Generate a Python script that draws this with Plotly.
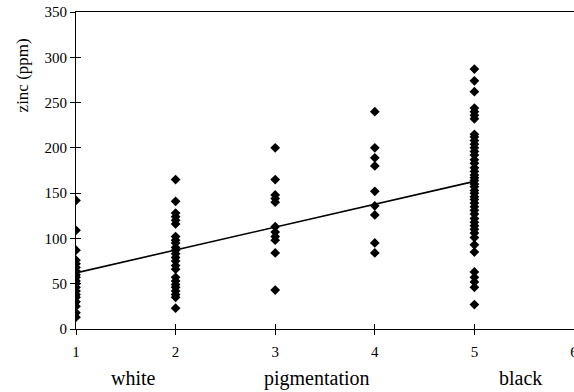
import plotly.graph_objects as go

# zinc (ppm) by pigmentation class
zinc_1 = [142, 109, 87, 76, 72, 68, 64, 60, 57, 53, 50, 46, 42, 38, 35, 30, 25, 18, 13]
zinc_2 = [165, 141, 128, 124, 120, 116, 102, 98, 95, 90, 87, 83, 79, 75, 70, 66,
          57, 53, 49, 46, 42, 38, 35, 23]
zinc_3 = [200, 165, 148, 144, 140, 113, 107, 102, 98, 84, 43]
zinc_4 = [240, 200, 189, 180, 152, 136, 126, 95, 84]
zinc_5 = [287, 274, 262, 244, 240, 236, 232, 215, 212, 208, 204, 200, 196, 192,
          187, 183, 178, 174, 170, 167, 164, 160, 157, 153, 150, 146, 143, 139,
          135, 131, 127, 122, 118, 114, 110, 106, 101, 93, 85, 63, 57, 52, 46, 27]
groups = [1, 2, 3, 4, 5]
fit_x = [1, 5]
fit_y = [62, 163]
x_ticks = [1, 2, 3, 4, 5, 6]
y_ticks = [0, 50, 100, 150, 200, 250, 300, 350]
cat_labels = ["white", "pigmentation", "black"]
cat_pos = [1.58, 3.42, 5.46]

xs, ys = [], []
for g, vals in zip(groups, [zinc_1, zinc_2, zinc_3, zinc_4, zinc_5]):
    xs += [g] * len(vals)
    ys += vals

FONT = "Liberation Serif"
fig = go.Figure()
fig.add_trace(go.Scatter(x=fit_x, y=fit_y, mode="lines",
                         line=dict(color="black", width=1.6), hoverinfo="skip"))
fig.add_trace(go.Scatter(x=xs, y=ys, mode="markers",
                         marker=dict(symbol="diamond", size=7.5, color="black")))

common = dict(showgrid=False, zeroline=False, linecolor="black", linewidth=1,
              ticklen=5, tickcolor="black", tickwidth=1, ticklabeloverflow="allow",
              automargin=False,
              tickfont=dict(family=FONT, size=15, color="black"))
fig.update_layout(
    width=574, height=392,
    margin=dict(l=76, r=0, t=12, b=63),
    paper_bgcolor="white", plot_bgcolor="white",
    showlegend=False,
    xaxis=dict(range=[1, 6], tickvals=x_ticks, ticks="outside", showline=True,
               mirror=True, ticklabelstandoff=4, **common),
    yaxis=dict(range=[0, 350], tickvals=y_ticks, ticks="outside", showline=True,
               **common),
    xaxis2=dict(range=[1, 6], tickvals=x_ticks, ticks="inside", showticklabels=False,
                overlaying="x", showline=False, **common),
    yaxis2=dict(range=[0, 350], tickvals=y_ticks, ticks="inside", showticklabels=False,
                overlaying="y", showline=False, **common),
)
# invisible trace to activate inner tick axes
fig.add_trace(go.Scatter(x=[1], y=[0], xaxis="x2", yaxis="y2", mode="markers",
                         marker=dict(opacity=0), hoverinfo="skip"))

for lab, pos in zip(cat_labels, cat_pos):
    fig.add_annotation(x=pos, y=0, xref="x", yref="paper", yshift=-49, text=lab,
                       showarrow=False, yanchor="middle",
                       font=dict(family=FONT, size=20, color="black"))
fig.add_annotation(x=0, y=0.80, xref="paper", yref="paper", xshift=-54,
                   xanchor="center", yanchor="middle",
                   text="zinc (ppm)", textangle=-90, showarrow=False,
                   font=dict(family=FONT, size=17, color="black"))

fig.write_html("out.html", config={"displayModeBar": False},
               post_script="document.body.style.margin='0';"
                           "document.body.style.overflow='hidden';")
